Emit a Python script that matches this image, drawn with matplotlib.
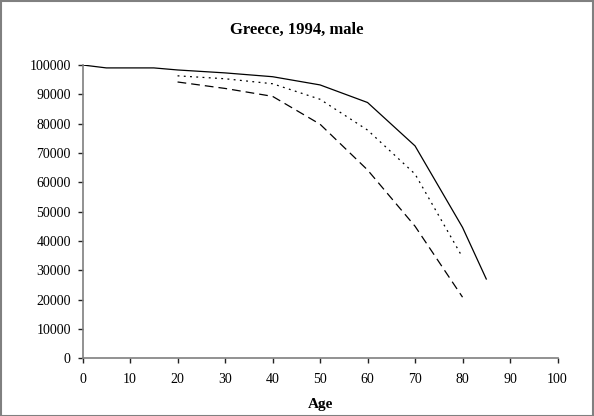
import matplotlib.pyplot as plt
from matplotlib.patches import Rectangle

# survivors by age
ages_solid = [0, 5, 10, 15, 20, 30, 40, 50, 60, 70, 80, 85]
surv_solid = [100000, 99000, 99000, 99000, 98300, 97300, 96000, 93200, 87200, 72400, 44600, 27000]

ages_dotted = [20, 30, 40, 50, 60, 70, 80]
surv_dotted = [96300, 95300, 93600, 88300, 77800, 62800, 34400]

ages_dashed = [20, 30, 40, 50, 60, 70, 80]
surv_dashed = [94200, 92000, 89300, 79800, 64200, 45000, 20800]

xticks = list(range(0, 101, 10))
yticks = list(range(0, 100001, 10000))

plt.rcParams.update({
    'font.family': 'Liberation Serif',
    'font.size': 10,
})

fig = plt.figure(figsize=(5.94, 4.16), dpi=100)
ax = fig.add_axes([0.139, 0.139, 0.7996, 0.7048])

ax.plot(ages_solid, surv_solid, '-', color='black', linewidth=0.9)
ax.plot(ages_dotted, surv_dotted, color='black', linewidth=0.9, linestyle=(0, (1.5, 3.5)))
ax.plot(ages_dashed, surv_dashed, color='black', linewidth=0.9, linestyle=(0, (7, 4)))

ax.set_xlim(0, 100)
ax.set_ylim(0, 100000)
ax.set_xticks(xticks)
ax.set_yticks(yticks)

for side in ['top', 'right']:
    ax.spines[side].set_visible(False)
for side in ['left', 'bottom']:
    ax.spines[side].set_color('#7f7f7f')
    ax.spines[side].set_linewidth(1.2)
ax.tick_params(direction='out', length=3.5, width=1, color='#222222')
ax.tick_params(axis='y', pad=5)
ax.tick_params(axis='x', pad=7)

fig.text(0.5, 0.927, 'Greece, 1994, male', ha='center', va='center',
         fontweight='bold', fontsize=12)
ax.set_xlabel('Age', fontweight='bold', fontsize=11, labelpad=9)

# gray frame around the whole figure
fig.patches.append(Rectangle((0.001, 0.001), 0.997, 0.996, transform=fig.transFigure,
                             fill=False, edgecolor='#808080', linewidth=1.5))

fig.savefig('out.png', dpi=100)
